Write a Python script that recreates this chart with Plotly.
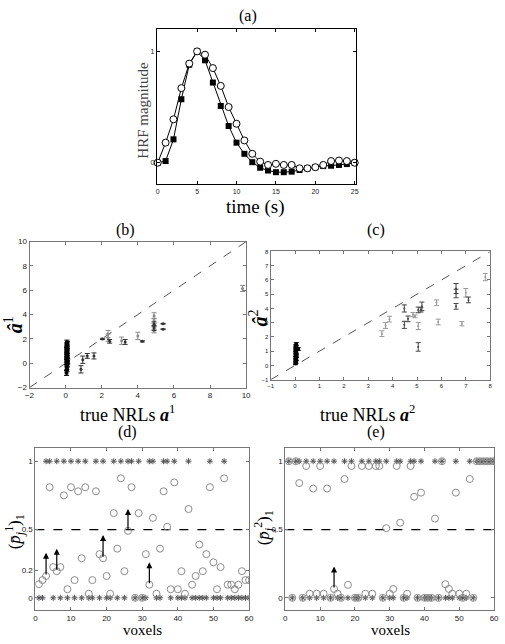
import plotly.graph_objects as go

W, H = 505, 644
def px(x): return x / W
def py(y): return 1 - y / H

# ---------------- (a) HRF ----------------
hrf_t = list(range(26))
hrf_circles = [0, 0.18, 0.39, 0.67, 0.89, 1.0, 0.97, 0.85, 0.69, 0.50, 0.35, 0.20, 0.08, 0.01,
               -0.02, -0.01, -0.02, -0.02, -0.05, -0.05, -0.04, -0.02, 0.015, 0.02, 0.015, 0.0]
hrf_squares = [0, 0.015, 0.21, 0.57, 0.88, 1.0, 0.92, 0.72, 0.51, 0.33, 0.18, 0.08, 0.005, -0.045,
               -0.07, -0.085, -0.085, -0.08, -0.065, -0.05, -0.04, -0.03, -0.027, -0.02, -0.012, 0.0]

# ---------------- (b) NRLs condition 1 ----------------
b0_x = [0.05, 0.08, 0.06, 0.1, 0.07, 0.05, 0.09, 0.06, 0.08, 0.1, 0.05, 0.07, 0.09, 0.06, 0.08,
        0.1, 0.05, 0.07, 0.09, 0.06, 0.08, 0.1, 0.07, 0.12]
b0_y = [-0.8, -0.5, -0.3, -0.1, 0.0, 0.1, 0.2, 0.3, 0.35, 0.45, 0.5, 0.6, 0.7, 0.8, 0.9,
        1.0, 1.1, 1.2, 1.3, 1.4, 1.5, 1.6, 1.7, 0.15]
b0_err = [0.2] * 24
b_dark_x = [0.85, 0.95, 1.2, 1.57, 2.04, 2.44, 3.3, 4.25, 4.9, 4.9, 5.4, 5.4]
b_dark_y = [-0.5, 0.29, 0.6, 0.6, 2.0, 1.8, 1.75, 1.8, 3.2, 2.9, 3.25, 2.8]
b_dark_err = [0.3, 0.3, 0.2, 0.25, 0.05, 0.15, 0.2, 0.05, 0.2, 0.2, 0.03, 0.03]
b_gray_x = [2.35, 2.35, 3.1, 4.0, 4.9, 4.9, 4.9, 9.8]
b_gray_y = [2.4, 2.1, 1.85, 2.25, 3.9, 3.5, 2.65, 6.15]
b_gray_err = [0.3, 0.3, 0.3, 0.3, 0.25, 0.2, 0.15, 0.25]

# ---------------- (c) NRLs condition 2 ----------------
c0_x = [0.02, 0.04, 0.03, 0.05, 0.02, 0.06, 0.04, 0.03, 0.05, 0.02, 0.06, 0.04, 0.03, 0.05, 0.13]
c0_y = [0.15, 0.25, 0.35, 0.45, 0.55, 0.65, 0.75, 0.85, 0.95, 1.05, 1.15, 1.25, 1.35, 1.5, 1.15]
c0_err = [0.1] * 15
c_dark_x = [4.48, 4.48, 4.63, 5.05, 5.05, 5.2, 5.16, 6.6, 6.6, 6.6, 7.11]
c_dark_y = [4.0, 2.85, 3.27, 3.9, 1.3, 4.15, 3.9, 5.4, 5.05, 4.15, 4.6]
c_dark_err = [0.25, 0.25, 0.2, 0.2, 0.3, 0.3, 0.15, 0.35, 0.3, 0.2, 0.2]
c_gray_x = [3.56, 3.71, 3.87, 4.83, 4.92, 5.05, 5.8, 5.87, 6.84, 7.0, 7.8]
c_gray_y = [2.23, 2.8, 3.25, 3.57, 3.45, 2.77, 4.4, 3.05, 2.93, 5.1, 6.2]
c_gray_err = [0.2, 0.2, 0.2, 0.15, 0.1, 0.25, 0.2, 0.2, 0.15, 0.3, 0.25]

# ---------------- (d), (e) posterior probabilities ----------------
voxels = list(range(1, 61))
d_active = [3, 4, 6, 8, 10, 12, 14, 17, 19, 22, 24, 26, 27, 29, 32, 33, 36, 37, 39, 43, 49, 53]
e_active = [1, 3, 4, 6, 8, 10, 12, 14, 17, 19, 22, 24, 26, 27, 29, 32, 33, 36, 37, 39, 43, 45,
            49, 53, 55, 56, 57, 58, 59, 60]
d_prob = [0.1, 0.13, 0.16, 0.81, 0.225, 0.195, 0.225, 0.75, 0.063, 0.81, 0.13, 0.78, 0.29, 0.81,
          0.03, 0.13, 0.78, 0.32, 0.29, 0.16, 0.03, 0.62, 0.36, 0.875, 0.195, 0.49, 0.81, 0.0,
          0.62, 0.0, 0.32, 0.096, 0.585, 0.03, 0.36, 0.78, 0.52, 0.063, 0.845, 0.063, 0.195, 0.03,
          0.65, 0.096, 0.16, 0.39, 0.195, 0.32, 0.81, 0.26, 0.063, 0.225, 0.875, 0.096, 0.096,
          0.063, 0.096, 0.195, 0.13, 0.13]
e_prob = [1.0, 0.0, 1.0, 0.84, 0.0, 0.965, 0.03, 0.80, 0.03, 0.965, 0.03, 0.80, 0.0, 0.065, 0.03,
          0.0, 0.87, 0.095, 0.965, 0.0, 0.0, 0.965, 0.03, 0.965, 0.03, 0.965, 0.965, 0.0, 0.51,
          0.03, 0.065, 0.965, 0.55, 0.0, 0.03, 0.965, 0.74, 0.0, 0.77, 0.0, 0.0, 0.0, 0.58, 0.0,
          1.0, 0.1, 0.065, 0.03, 0.77, 0.03, 0.0, 0.03, 0.87, 0.0, 1.0, 1.0, 1.0, 1.0, 1.0, 1.0]
d_arrow_vox = [3, 6, 19, 26, 32]
d_arrow_from = [0.16, 0.195, 0.29, 0.49, 0.096]
d_arrow_to = [0.33, 0.36, 0.46, 0.65, 0.26]
e_arrow_vox = [14]
e_arrow_from = [0.065]
e_arrow_to = [0.23]
threshold = 0.5

SERIF = "Liberation Serif"
SANS = "Liberation Sans"

fig = go.Figure()

# (a)
fig.add_trace(go.Scatter(x=hrf_t, y=hrf_squares, mode="lines+markers", xaxis="x", yaxis="y",
                         line=dict(color="black", width=1),
                         marker=dict(symbol="square", size=6, color="black"), cliponaxis=False))
fig.add_trace(go.Scatter(x=hrf_t, y=hrf_circles, mode="lines+markers", xaxis="x", yaxis="y",
                         line=dict(color="black", width=1),
                         marker=dict(symbol="circle", size=7, color="white",
                                     line=dict(color="black", width=1)), cliponaxis=False))

def errtrace(x, y, e, color, ax, ay, msize=3):
    return go.Scatter(x=x, y=y, mode="markers", xaxis=ax, yaxis=ay,
                      marker=dict(symbol="circle", size=msize, color=color),
                      error_y=dict(type="data", array=e, color=color, thickness=1, width=2.5))

# (b)
fig.add_trace(go.Scatter(x=[-2, 10], y=[-2, 10], mode="lines", xaxis="x2", yaxis="y2",
                         line=dict(color="#555", width=1, dash="dash")))
fig.add_trace(errtrace(b_gray_x, b_gray_y, b_gray_err, "#8a8a8a", "x2", "y2"))
fig.add_trace(errtrace(b_dark_x, b_dark_y, b_dark_err, "#333", "x2", "y2"))
fig.add_trace(errtrace(b0_x, b0_y, b0_err, "black", "x2", "y2", 4))

# (c)
fig.add_trace(go.Scatter(x=[-1, 8], y=[-1, 8], mode="lines", xaxis="x3", yaxis="y3",
                         line=dict(color="#555", width=1, dash="dash")))
fig.add_trace(errtrace(c_gray_x, c_gray_y, c_gray_err, "#999", "x3", "y3", 2))
fig.add_trace(errtrace(c_dark_x, c_dark_y, c_dark_err, "#444", "x3", "y3", 2))
fig.add_trace(errtrace(c0_x, c0_y, c0_err, "black", "x3", "y3", 4))

# (d), (e)
for ax, ay, active, prob in [("x4", "y4", d_active, d_prob), ("x5", "y5", e_active, e_prob)]:
    fig.add_trace(go.Scatter(x=[0, 60], y=[threshold, threshold], mode="lines", xaxis=ax, yaxis=ay,
                             line=dict(color="black", width=1.3, dash="dash")))
    lab = [1 if v in active else 0 for v in voxels]
    fig.add_trace(go.Scatter(x=voxels, y=lab, mode="markers", xaxis=ax, yaxis=ay,
                             marker=dict(symbol="asterisk-open", size=5, color="#555",
                                         line=dict(color="#555", width=1))))
    fig.add_trace(go.Scatter(x=voxels, y=prob, mode="markers", xaxis=ax, yaxis=ay,
                             marker=dict(symbol="circle-open", size=7, color="#8c8c8c",
                                         line=dict(color="#8c8c8c", width=1))))

annotations = []
for ax, ay, vx, v0, v1 in [("x4", "y4", d_arrow_vox, d_arrow_from, d_arrow_to),
                           ("x5", "y5", e_arrow_vox, e_arrow_from, e_arrow_to)]:
    for v, a, b in zip(vx, v0, v1):
        annotations.append(dict(x=v, y=b, ax=v, ay=a, xref=ax, yref=ay, axref=ax, ayref=ay,
                                showarrow=True, arrowhead=2, arrowsize=1, arrowwidth=1.2,
                                arrowcolor="black", text=""))

def txt(x, y, t, size, angle=0, font=SERIF, color="black", yanchor="middle"):
    annotations.append(dict(x=px(x), y=py(y), xref="paper", yref="paper", text=t, showarrow=False,
                            textangle=angle, font=dict(family=font, size=size, color=color),
                            xanchor="center", yanchor=yanchor))

txt(248, 12, "(a)", 16)
txt(256, 206, "time (s)", 19)
txt(141, 108, "HRF magnitude", 15, -90, color="#444")
txt(123, 229, "(b)", 16)
txt(378, 229, "(c)", 16)
txt(125, 415, "true NRLs <b><i>a</i></b><sup>1</sup>", 18)
txt(370, 415, "true NRLs <b><i>a</i></b><sup>2</sup>", 18)
txt(9, 325, "<b><i>â</i></b><sup>1</sup>", 20, -90)
txt(258, 318, "<b><i>â</i></b><sup>2</sup>", 20, -90)
txt(125, 434, "(d)", 16)
txt(378, 434, "(e)", 16)
txt(140, 645, "voxels", 15, yanchor="bottom")
txt(393, 645, "voxels", 15, yanchor="bottom")
txt(10, 535, "(<i>p̄</i><sub><i>j</i></sub><sup>1</sup>)<sub>1</sub>", 17, -90)
txt(264, 531, "(<i>p̄</i><sub><i>j</i></sub><sup>2</sup>)<sub>1</sub>", 17, -90)

def axis(domain, rng, tickvals, ticktext=None, anchor=None, size=8, lc="#777", ticklen=3):
    d = dict(domain=domain, range=rng, tickvals=tickvals, showgrid=False, zeroline=False,
             showline=True, linecolor=lc, linewidth=1, mirror="ticks", ticks="inside",
             ticklen=ticklen, tickcolor=lc, tickfont=dict(family=SANS, size=size, color="#222"),
             anchor=anchor)
    if ticktext is not None:
        d["ticktext"] = ticktext
    return d

fig.update_layout(
    width=W, height=644, margin=dict(l=0, r=0, t=0, b=0), showlegend=False,
    paper_bgcolor="white", plot_bgcolor="white",
    xaxis=axis([px(155), px(358)], [-0.1, 25.15], [0, 5, 10, 15, 20, 25], anchor="y", size=7,
               lc="black"),
    yaxis=axis([py(183), py(25)], [-0.195, 1.204], [0, 1], anchor="x", size=7, lc="black"),
    xaxis2=axis([px(25), px(246)], [-2, 10], list(range(-2, 11, 2)), anchor="y2", size=8),
    yaxis2=axis([py(389), py(241)], [-2, 10], list(range(-2, 11, 2)), anchor="x2", size=8),
    xaxis3=axis([px(271), px(495)], [-1, 8], list(range(-1, 9)), anchor="y3", size=6),
    yaxis3=axis([py(381), py(251)], [-1, 8], list(range(-1, 9)), anchor="x3", size=6),
    xaxis4=axis([px(31), px(249)], [0, 60], list(range(0, 61, 10)), anchor="y4", size=8),
    yaxis4=axis([py(615), py(450)], [-0.092, 1.099], [0, 0.2, 0.5, 1], ["0", "0.2", "0.5", "1"],
                anchor="x4", size=8),
    xaxis5=axis([px(286), px(499)], [0, 60], list(range(0, 61, 10)), anchor="y5", size=8),
    yaxis5=axis([py(615), py(450)], [-0.092, 1.099], [0, 0.5, 1], ["0", "0.5", "1"],
                anchor="x5", size=8),
    annotations=annotations,
)

fig.write_html("out.html")
